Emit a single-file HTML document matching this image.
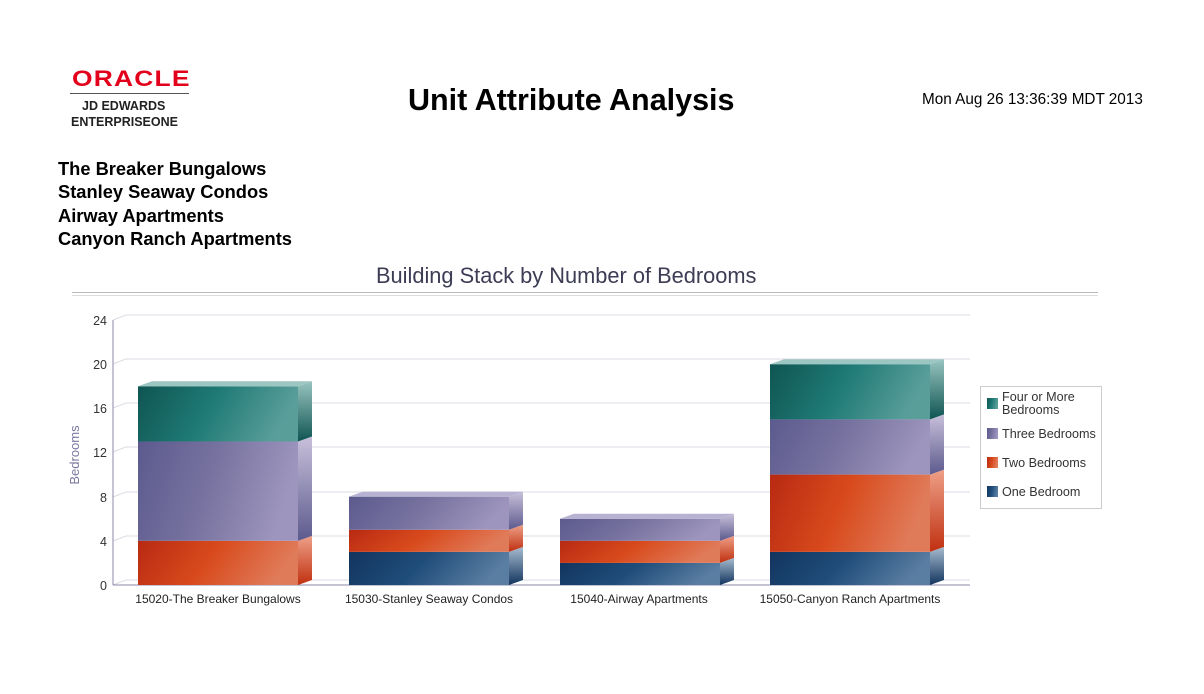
<!DOCTYPE html>
<html><head><style>
body{margin:0;width:1204px;height:694px;background:#fff;font-family:"Liberation Sans",sans-serif;position:relative;overflow:hidden}
.a{position:absolute;white-space:nowrap}
</style></head><body>
<div class="a" style="left:72px;top:66px;color:#e3001b;font-size:22px;font-weight:bold;letter-spacing:1px;transform:scaleX(1.2);transform-origin:left">ORACLE</div>
<div class="a" style="left:70px;top:93px;width:119px;height:1px;background:#555"></div>
<div class="a" style="left:82px;top:99px;font-size:12.5px;font-weight:bold;color:#222">JD EDWARDS</div>
<div class="a" style="left:71px;top:115px;font-size:12.5px;font-weight:bold;color:#222">ENTERPRISEONE</div>
<div class="a" style="left:408px;top:83px;font-size:30.5px;font-weight:bold">Unit Attribute Analysis</div>
<div class="a" style="left:922px;top:91px;font-size:15.3px">Mon Aug 26 13:36:39 MDT 2013</div>
<div class="a" style="left:58px;top:157px;font-size:18.3px;font-weight:bold;line-height:23.3px">The Breaker Bungalows<br>Stanley Seaway Condos<br>Airway Apartments<br>Canyon Ranch Apartments</div>
<div class="a" style="left:376px;top:263px;font-size:21.8px;color:#3c3c54">Building Stack by Number of Bedrooms</div>
<div class="a" style="left:72px;top:292px;width:1026px;height:1px;background:#bbb"></div>
<div class="a" style="left:72px;top:295px;width:1026px;height:1px;background:#ddd"></div>
<svg class="a" style="left:0;top:0" width="1204" height="694">
<defs>
<linearGradient id="teal" x1="0" y1="0" x2="1" y2="0.2"><stop offset="0" stop-color="#0f5552"/><stop offset="0.5" stop-color="#1f7a76"/><stop offset="1" stop-color="#5a9e9a"/></linearGradient>
<linearGradient id="pur" x1="0" y1="0" x2="1" y2="0.2"><stop offset="0" stop-color="#5c5a8e"/><stop offset="0.5" stop-color="#77729f"/><stop offset="1" stop-color="#9d95bd"/></linearGradient>
<linearGradient id="red" x1="0" y1="0" x2="1" y2="0.2"><stop offset="0" stop-color="#b82a12"/><stop offset="0.5" stop-color="#d84a1c"/><stop offset="1" stop-color="#e07b5a"/></linearGradient>
<linearGradient id="blu" x1="0" y1="0" x2="1" y2="0.2"><stop offset="0" stop-color="#12345e"/><stop offset="0.5" stop-color="#1f4d7a"/><stop offset="1" stop-color="#5a7da2"/></linearGradient>
<linearGradient id="tealS" x1="0" y1="0" x2="0" y2="1"><stop offset="0" stop-color="#98c4c0"/><stop offset="1" stop-color="#0f5552"/></linearGradient>
<linearGradient id="purS" x1="0" y1="0" x2="0" y2="1"><stop offset="0" stop-color="#c8c0da"/><stop offset="1" stop-color="#5c5a8e"/></linearGradient>
<linearGradient id="redS" x1="0" y1="0" x2="0" y2="1"><stop offset="0" stop-color="#eea088"/><stop offset="1" stop-color="#c03010"/></linearGradient>
<linearGradient id="bluS" x1="0" y1="0" x2="0" y2="1"><stop offset="0" stop-color="#a8bcd0"/><stop offset="1" stop-color="#12345e"/></linearGradient>
</defs>
<g stroke="#dcdce4" stroke-width="1">
<line x1="113" y1="585" x2="126" y2="580"/><line x1="126" y1="580" x2="970" y2="580"/>
<line x1="113" y1="541" x2="126" y2="536"/><line x1="126" y1="536" x2="970" y2="536"/>
<line x1="113" y1="497" x2="126" y2="492"/><line x1="126" y1="492" x2="970" y2="492"/>
<line x1="113" y1="452" x2="126" y2="447"/><line x1="126" y1="447" x2="970" y2="447"/>
<line x1="113" y1="408" x2="126" y2="403"/><line x1="126" y1="403" x2="970" y2="403"/>
<line x1="113" y1="364" x2="126" y2="359"/><line x1="126" y1="359" x2="970" y2="359"/>
<line x1="113" y1="320" x2="126" y2="315"/><line x1="126" y1="315" x2="970" y2="315"/>
</g>
<line x1="113" y1="320" x2="113" y2="585" stroke="#8a88a8"/>
<line x1="113" y1="585" x2="970" y2="585" stroke="#8a88a8"/>
<g font-size="12.5" fill="#333" text-anchor="end">
<text x="107" y="590">0</text><text x="107" y="546">4</text><text x="107" y="502">8</text><text x="107" y="457">12</text><text x="107" y="413">16</text><text x="107" y="369">20</text><text x="107" y="325">24</text>
</g>
<text transform="translate(79,455) rotate(-90)" text-anchor="middle" font-size="13" fill="#7a78a0">Bedrooms</text>
<g id="bars"></g>
<g font-size="12" fill="#222" text-anchor="middle">
<text x="218" y="603">15020-The Breaker Bungalows</text>
<text x="429" y="603">15030-Stanley Seaway Condos</text>
<text x="639" y="603">15040-Airway Apartments</text>
<text x="850" y="603">15050-Canyon Ranch Apartments</text>
</g>
<rect x="980.5" y="386.5" width="121" height="122" fill="#fff" stroke="#ccc"/>
<rect x="987" y="398" width="11" height="11" fill="url(#teal)"/>
<rect x="987" y="428" width="11" height="11" fill="url(#pur)"/>
<rect x="987" y="457" width="11" height="11" fill="url(#red)"/>
<rect x="987" y="486" width="11" height="11" fill="url(#blu)"/>
<g font-size="12.6" fill="#333">
<text x="1002" y="401">Four or More</text><text x="1002" y="414">Bedrooms</text>
<text x="1002" y="438">Three Bedrooms</text>
<text x="1002" y="467">Two Bedrooms</text>
<text x="1002" y="496">One Bedroom</text>
</g>
</svg>
<script>
var S=11.04,B=585,D=14,U=5,g=document.getElementById('bars'),ns='http://www.w3.org/2000/svg';
var bars=[[138,[['red',4],['pur',9],['teal',5]]],[349,[['blu',3],['red',2],['pur',3]]],[560,[['blu',2],['red',2],['pur',2]]],[770,[['blu',3],['red',7],['pur',5],['teal',5]]]];
function el(t,a){var e=document.createElementNS(ns,t);for(var k in a)e.setAttribute(k,a[k]);g.appendChild(e);}
bars.forEach(function(b){var x=b[0],w=160,v=0;b[1].forEach(function(s){var y0=B-v*S,y1=B-(v+s[1])*S;
el('rect',{x:x,y:y1,width:w,height:y0-y1,fill:'url(#'+s[0]+')'});
el('polygon',{points:[x+w,y0,x+w+D,y0-U,x+w+D,y1-U,x+w,y1].join(' '),fill:'url(#'+s[0]+'S)'});
v+=s[1];});
var yt=B-v*S,c=b[1][b[1].length-1][0];var col={teal:'#9cc6c2',pur:'#b8b2d2',red:'#eea088',blu:'#a8bcd0'}[c];
el('polygon',{points:[x,yt,x+D,yt-U,x+w+D,yt-U,x+w,yt].join(' '),fill:col});});
</script>
</body></html>
